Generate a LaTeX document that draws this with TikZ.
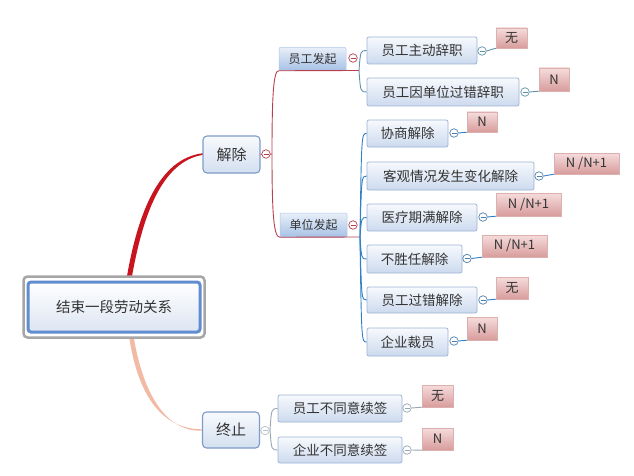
\documentclass[tikz,border=0pt]{standalone}
\usepackage{fontspec}
\newfontfamily\cjk{Noto Sans CJK SC}
\definecolor{txtc}{HTML}{333333}
\definecolor{leaftop}{HTML}{F7F9FD}
\definecolor{leafbot}{HTML}{CCDAEE}
\definecolor{leafborder}{HTML}{9DB3D3}
\definecolor{subtop}{HTML}{E8EFF9}
\definecolor{subbot}{HTML}{A7C1E5}
\definecolor{subborder}{HTML}{B3C8E6}
\definecolor{maintop}{HTML}{F8FAFD}
\definecolor{mainbot}{HTML}{D3DFF0}
\definecolor{mainborder}{HTML}{7E9CC8}
\definecolor{tagtop}{HTML}{F6DCDC}
\definecolor{tagbot}{HTML}{D89C9C}
\definecolor{tagborder}{HTML}{DDB0B0}
\definecolor{thickred}{HTML}{C8141E}
\definecolor{peach}{HTML}{F2B9A3}
\definecolor{redline}{HTML}{B8404E}
\definecolor{tealline}{HTML}{5E91A8}
\definecolor{blueline}{HTML}{2F80C8}
\definecolor{grayline}{HTML}{97A6B4}
\definecolor{rootgray}{HTML}{A6A6A6}
\definecolor{rootblue}{HTML}{5F8DCF}
\definecolor{rootbot}{HTML}{DCE5F2}
\begin{document}
\begin{tikzpicture}[x=1pt,y=-1pt,
  txt/.style={text=txtc, inner sep=0pt, font=\cjk\fontsize{13.5}{16}\selectfont},
  leaf/.style={txt, draw=leafborder, line width=0.7pt, rounded corners=2pt, top color=leaftop, bottom color=leafbot},
  subtopic/.style={txt, font=\cjk\fontsize{12}{14}\selectfont, draw=subborder, line width=0.5pt, rounded corners=1pt, top color=subtop, bottom color=subbot},
  maintopic/.style={txt, font=\cjk\fontsize{15}{18}\selectfont, draw=mainborder, line width=1.1pt, rounded corners=4pt, top color=maintop, bottom color=mainbot},
  tagbox/.style={txt, font=\cjk\fontsize{13}{15}\selectfont, draw=tagborder, line width=0.4pt, top color=tagtop, bottom color=tagbot},
  fold/.style={circle, draw=#1, fill=white, line width=0.7pt, minimum size=8.5pt, inner sep=0pt,
    path picture={\draw[#1, line width=0.7pt] ([xshift=-2.5pt]path picture bounding box.center) -- ([xshift=2.5pt]path picture bounding box.center);}},
  conn/.style={line width=0.9pt, draw=#1},
]
\useasboundingbox[fill=white] (0,0) rectangle (634,476);

% main branches (tapered)
\fill[thickred] (126.5,279) .. controls (137.5,214) and (158.5,158.5) .. (203,153.2)
  -- (203,154.8) .. controls (161.5,161.5) and (142.5,216) .. (131.5,279) -- cycle;
\fill[peach] (129,336) .. controls (138,397) and (163,429.3) .. (202,429.3)
  -- (202,430.7) .. controls (166,432) and (143,394) .. (133.5,336) -- cycle;

% root
\node[draw=rootgray, line width=2.5pt, rounded corners=4pt, fill=white, minimum width=181pt, minimum height=61pt, inner sep=0pt] (rootout) at (114,307) {};
\node[txt, font=\cjk\fontsize{14.5}{17}\selectfont, draw=rootblue, line width=3pt, rounded corners=3pt, top color=white, bottom color=rootbot, minimum width=172pt, minimum height=50pt] (root) at (114,307) {结束一段劳动关系};

% main topics
\node[maintopic, minimum width=57pt, minimum height=37pt] (jc) at (231.5,154.5) {解除};
\node[maintopic, minimum width=57pt, minimum height=36pt] (zz) at (231,430) {终止};

% sub topics
\node[subtopic, minimum width=67pt, minimum height=23pt] (yg) at (312.5,59) {员工发起};
\node[subtopic, minimum width=67pt, minimum height=24pt] (dw) at (313.5,225) {单位发起};

% leaves
\node[leaf, minimum width=110pt, minimum height=27pt] (a1) at (422,50.5) {员工主动辞职};
\node[leaf, minimum width=152pt, minimum height=28pt] (a2) at (443,92) {员工因单位过错辞职};
\node[leaf, minimum width=81pt, minimum height=27pt] (b1) at (407.5,133.5) {协商解除};
\node[leaf, minimum width=167pt, minimum height=28pt] (b2) at (450.5,176) {客观情况发生变化解除};
\node[leaf, minimum width=110pt, minimum height=27pt] (b3) at (422,217.5) {医疗期满解除};
\node[leaf, minimum width=95pt, minimum height=28pt] (b4) at (414.5,259) {不胜任解除};
\node[leaf, minimum width=110pt, minimum height=26pt] (b5) at (422,300) {员工过错解除};
\node[leaf, minimum width=81pt, minimum height=28pt] (b6) at (407.5,342) {企业裁员};
\node[leaf, minimum width=124pt, minimum height=27pt] (c1) at (340,408.5) {员工不同意续签};
\node[leaf, minimum width=124pt, minimum height=26pt] (c2) at (340,450) {企业不同意续签};

% tags
\node[tagbox, minimum width=31pt, minimum height=20pt] (ta1) at (511.5,38) {无};
\node[tagbox, minimum width=30pt, minimum height=23pt] (ta2) at (554,79.5) {N};
\node[tagbox, minimum width=30pt, minimum height=20pt] (tb1) at (482,122) {N};
\node[tagbox, minimum width=65pt, minimum height=21pt] (tb2) at (586.5,163.5) {N /N+1};
\node[tagbox, minimum width=65pt, minimum height=23pt] (tb3) at (528.5,204.5) {N /N+1};
\node[tagbox, minimum width=65pt, minimum height=22pt] (tb4) at (514.5,246) {N /N+1};
\node[tagbox, minimum width=32pt, minimum height=22pt] (tb5) at (512,288) {无};
\node[tagbox, minimum width=30pt, minimum height=23pt] (tb6) at (482,328.5) {N};
\node[tagbox, minimum width=31pt, minimum height=22pt] (tc1) at (437.5,396) {无};
\node[tagbox, minimum width=31pt, minimum height=22pt] (tc2) at (437.5,439) {N};

% connector anchor points
\coordinate (jcs) at (272,154);
\coordinate (ygend) at (359,70.5);
\coordinate (dwend) at (360,237);
\coordinate (zzs) at (270,430);

% 解除 -> 员工发起 / 单位发起 (underline style)
\draw[conn=redline] (jc.east) -- (jcs);
\draw[conn=redline] (jcs) .. controls (272,95) and (273.5,70.5) .. (yg.south west) -- (ygend);
\draw[conn=redline] (jcs) .. controls (272,212) and (273.5,237) .. (dw.south west) -- (dwend);

% 员工发起 -> leaves
\draw[conn=tealline] (ygend) .. controls (360.5,50.5) .. (a1.west);
\draw[conn=tealline] (ygend) .. controls (360.5,92) .. (a2.west);

% 单位发起 -> leaves
\foreach \n in {b1,b2,b3,b4,b5,b6}{
  \draw[conn=blueline] (dwend) .. controls (361.5,0|-\n.west) .. (\n.west);
}

% 终止 -> leaves
\draw[line width=0.8pt, grayline] (zz.east) -- (zzs);
\draw[conn=grayline] (zzs) .. controls (271.5,408.5) .. (c1.west);
\draw[conn=grayline] (zzs) .. controls (271.5,450) .. (c2.west);

% fold circles
\node[fold=redline] (jcf) at (266,154) {};
\node[fold=redline] (ygf) at (353,58) {};
\node[fold=redline] (dwf) at (353,225) {};
\node[fold=grayline!70] (zzf) at (265,430.5) {};
\node[fold=tealline] (a1f) at (482,51) {};
\node[fold=tealline] (a2f) at (525,92) {};
\node[fold=blueline!60!gray] (b1f) at (454,133) {};
\node[fold=blueline!60!gray] (b2f) at (539,176) {};
\node[fold=blueline!60!gray] (b3f) at (483,217) {};
\node[fold=blueline!60!gray] (b4f) at (467,258.5) {};
\node[fold=blueline!60!gray] (b5f) at (483,300) {};
\node[fold=blueline!60!gray] (b6f) at (454,341) {};
\node[fold=grayline] (c1f) at (407,408) {};
\node[fold=grayline] (c2f) at (407,450) {};

% tag connectors
\draw[conn=tealline] (a1f.east) -- (ta1.south west);
\draw[conn=tealline] (a2f.east) -- (ta2.south west);
\draw[conn=blueline] (b1f.east) -- (tb1.south west);
\draw[conn=blueline] (b2f.east) -- (tb2.south west);
\draw[conn=blueline] (b3f.east) -- (tb3.south west);
\draw[conn=blueline] (b4f.east) -- (tb4.south west);
\draw[conn=blueline] (b5f.east) -- (tb5.south west);
\draw[conn=blueline] (b6f.east) -- (tb6.south west);
\draw[conn=grayline] (c1f.east) -- (tc1.south west);
\draw[conn=grayline] (c2f.east) -- (tc2.south west);
\end{tikzpicture}
\end{document}
